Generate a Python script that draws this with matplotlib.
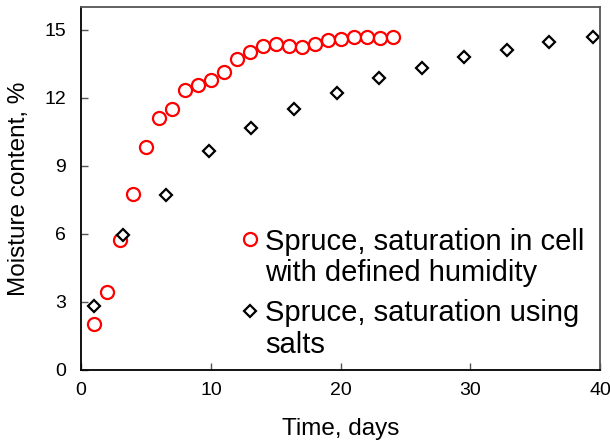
import matplotlib
matplotlib.use("Agg")
import matplotlib.pyplot as plt
from matplotlib.lines import Line2D

plt.rcParams['font.family'] = ['Liberation Sans', 'DejaVu Sans']

cell_days = [1, 2, 3, 4, 5, 6, 7, 8, 9, 10, 11, 12, 13, 14, 15, 16, 17, 18, 19, 20, 21, 22, 23, 24]
cell_mc = [2.01, 3.42, 5.73, 7.74, 9.85, 11.09, 11.51, 12.34, 12.55, 12.79, 13.15, 13.72, 14.04, 14.3,
           14.38, 14.28, 14.22, 14.39, 14.57, 14.6, 14.66, 14.7, 14.63, 14.69]
salt_days = [1.0, 3.26, 6.55, 9.84, 13.12, 16.38, 19.72, 22.93, 26.27, 29.5, 32.84, 36.08, 39.42]
salt_mc = [2.82, 5.95, 7.73, 9.66, 10.69, 11.5, 12.2, 12.86, 13.3, 13.82, 14.12, 14.44, 14.66]

label_cell = ["Spruce, saturation in cell", "with defined humidity"]
label_salt = ["Spruce, saturation using", "salts"]

fig = plt.figure(figsize=(6.1, 4.42), dpi=100)
ax = fig.add_axes([0.133, 0.163, 0.851, 0.821])

cell_style = dict(linestyle='none', marker='o', ms=9.4, mfc='white', mec='red', mew=1.6)
salt_style = dict(linestyle='none', marker='D', ms=6.6, mfc='white', mec='black', mew=1.6)

h_cell, = ax.plot(cell_days, cell_mc, **cell_style)
h_salt, = ax.plot(salt_days, salt_mc, **salt_style)

ax.set_xlim(0, 40)
ax.set_ylim(0, 16)
ax.set_xticks([0, 10, 20, 30, 40])
ax.set_yticks([0, 3, 6, 9, 12, 15])
ax.tick_params(direction='in', length=5, width=1, labelsize=14, color='#555555')
ax.tick_params(axis='y', pad=11)
ax.tick_params(axis='x', pad=9)
for s in ax.spines.values():
    s.set_linewidth(1.3)
ax.spines['top'].set_color('#555555')
ax.spines['right'].set_color('#555555')

ax.set_xlabel("Time, days", fontsize=17.5, labelpad=13)
ax.set_ylabel("Moisture content, %", fontsize=17.5, labelpad=10)

blank = Line2D([], [], linestyle='none', marker=None)
leg_kw = dict(loc='upper left', frameon=False, fontsize=21, handlelength=0.6, handletextpad=0.22,
              labelspacing=0.12, borderpad=0, borderaxespad=0, bbox_transform=fig.transFigure)
leg1 = ax.legend([h_cell, blank], label_cell, bbox_to_anchor=(0.396, 0.485), **leg_kw)
ax.add_artist(leg1)
leg2 = ax.legend([h_salt, blank], label_salt, bbox_to_anchor=(0.396, 0.323), **leg_kw)

fig.savefig("out.png", dpi=100)
